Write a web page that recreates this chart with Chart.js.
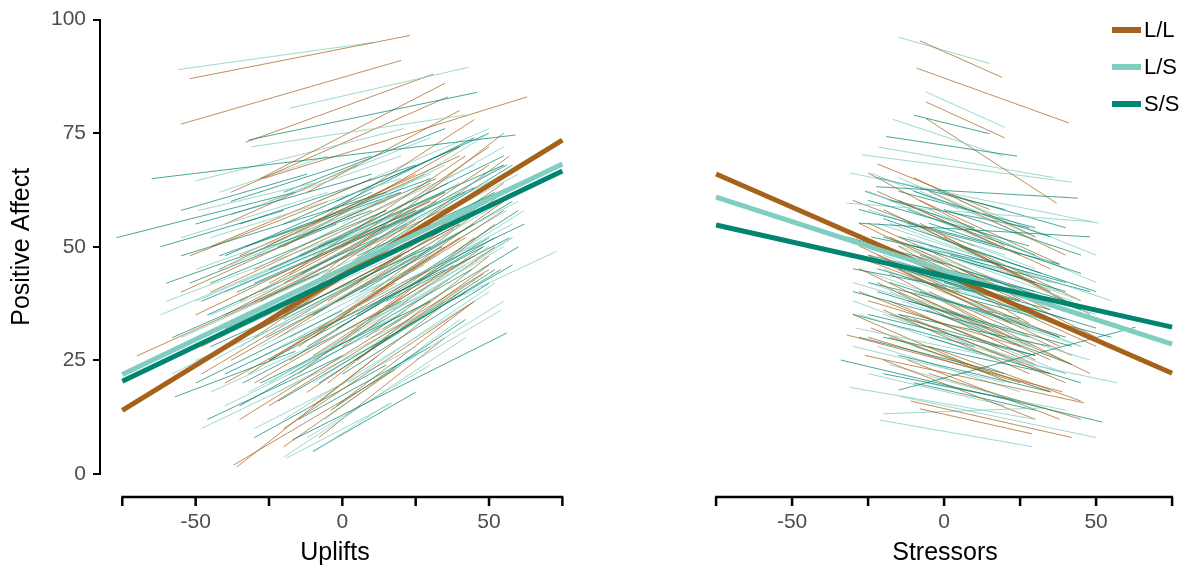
<!DOCTYPE html>
<html>
<head>
<meta charset="utf-8">
<title>Positive Affect by Uplifts and Stressors</title>
<script src="https://cdn.jsdelivr.net/npm/chart.js@4.4.0/dist/chart.umd.min.js"></script>
<style>
  body { margin: 0; background: #fff; }
  #wrap { position: relative; width: 1194px; height: 569px; overflow: hidden; }
  #uplifts-chart { position: absolute; left: 0; top: 0; }
  #stressors-chart { position: absolute; left: 600px; top: 0; }
  #legend { position: absolute; left: 1112px; top: 11px; font-family: "Liberation Sans", Arial, sans-serif; }
  .legend-row { display: flex; align-items: center; height: 37px; font-size: 22px; color: #000; }
  .swatch { width: 29px; height: 6px; margin-right: 3px; }
</style>
</head>
<body>
<div id="wrap">
  <canvas id="uplifts-chart" width="590" height="569"></canvas>
  <canvas id="stressors-chart" width="594" height="569"></canvas>
  <div id="legend"></div>
</div>
<script>
"use-strict";

// Groups and colours

let groups = ["L/L", "L/S", "S/S"];
let groupColors = ["#a6611a", "#80cdc1", "#018571"];
let thinColors = ["rgba(166,97,26,0.9)", "rgba(128,205,193,0.95)", "rgba(1,133,113,0.9)"];

// Axis ticks

let xTicks = [-75, -50, -25, 0, 25, 50, 75];
let xTickLabels = ["", "-50", "", "0", "", "50", ""];
let yTicks = [0, 25, 50, 75, 100];

// Group-level fitted lines (value at x = -75 and x = 75)

let fitRange = [-75, 75];
let upliftFitStart = [14.0, 21.9, 20.4];
let upliftFitEnd = [73.5, 68.2, 66.7];
let stressorFitStart = [65.8, 60.7, 54.6];
let stressorFitEnd = [22.1, 28.5, 32.2];

// Person-level lines, [x1, y1, x2, y2]

let upliftLL = [
  [-52,87,23,96.5], [-55,77,20,91], [-33,73,31,88], [-28,65,35,86], [-27,65,63,83],
  [-38,62,36,83], [-70,26,-8,44], [-37,2,18,23], [-36,1.5,12,26], [-55,40,20,62],
  [-50,35,30,60], [-45,30,35,55], [-40,28,40,55], [-42,45,25,66], [-35,48,40,70],
  [-30,20,45,48], [-25,15,50,45], [-20,10,45,38], [-30,38,50,63], [-10,30,55,60],
  [-15,40,50,68], [-20,50,40,72], [-5,45,55,75], [-40,20,30,45], [-48,22,20,48],
  [-35,12,30,38], [-25,25,40,52], [-15,22,45,52], [-10,15,40,40], [-5,20,50,48],
  [0,35,55,58], [-20,35,30,55], [-30,30,20,52], [-45,50,10,65], [-10,55,45,78],
  [0,50,50,72], [-25,42,35,62], [-15,28,35,50], [-35,38,15,55], [-8,8,35,30],
  [-20,6,20,24], [10,40,55,62], [5,25,50,46], [-18,44,42,70], [-52,48,-5,60],
  [-40,55,5,68], [-12,62,40,80], [-28,33,25,56], [-2,28,52,55], [15,50,57,70],
  [-45,40,15,58], [-38,25,25,48], [-30,45,30,64], [-22,30,38,54], [-12,18,48,44],
  [-5,38,45,58], [5,42,55,64], [-32,22,18,42], [-18,25,30,45], [-26,50,28,66],
  [-8,32,42,52], [-40,35,10,52], [-2,15,45,38], [-14,48,36,64], [8,30,52,50],
  [-35,30,20,48], [-20,42,25,58], [-10,26,38,46], [-48,28,5,46], [0,28,48,50]
];
let upliftLS = [
  [-56,89,11,95], [-18,80.5,43,89.5], [-31,72,42,79], [-50,64.5,21,76], [-49,58,-10,64],
  [-19,3.5,17,15.6], [-10,4.8,16,15.6], [-20,3.7,42,30], [25,25,54,36], [-60,38,10,55],
  [-55,30,20,52], [-50,25,25,45], [-45,18,30,40], [-50,45,15,60], [-45,52,20,65],
  [-40,40,40,62], [-35,33,45,58], [-30,25,50,52], [-25,20,55,50], [-20,12,50,40],
  [-15,30,58,55], [-10,42,60,66], [-5,50,55,72], [0,55,50,75], [-30,48,35,68],
  [-38,57,20,70], [-25,60,30,74], [-45,35,10,50], [-58,22,-10,38], [-40,15,20,34],
  [-30,10,25,28], [-10,20,48,44], [5,30,58,52], [10,20,55,38], [-20,38,40,58],
  [-15,50,45,68], [-35,28,15,46], [-55,52,-5,62], [0,40,60,60], [-8,60,50,76],
  [15,45,60,62], [-28,40,28,58], [-48,10,10,28], [-62,35,-15,48], [-22,18,35,38],
  [20,55,55,68], [-12,8,30,24], [-42,62,-5,70], [30,45,62,58], [10,30,73,49],
  [-42,30,18,48], [-35,42,30,60], [-28,28,32,48], [-20,22,42,46], [-12,35,48,56],
  [-4,28,50,50], [4,38,56,58], [-32,18,22,36], [-16,42,30,58], [-24,52,30,66],
  [-6,12,40,34], [-38,46,12,60], [2,20,52,42], [-18,30,28,46], [8,50,55,66],
  [-44,25,5,42], [-26,35,22,52], [-10,48,40,64], [-50,38,0,52], [12,35,58,52]
];
let upliftSS = [
  [-32,73.5,46,84], [-65,65,59,74.6], [-77,52,-16,62], [-17,7.5,56,31], [-57,17,-16,27],
  [-46,12,0,26], [-60,42,10,58], [-55,48,15,62], [-50,55,10,66], [-48,38,25,58],
  [-45,28,30,50], [-40,22,35,45], [-42,48,30,65], [-35,55,25,68], [-30,42,45,63],
  [-28,32,40,55], [-25,25,48,50], [-22,16,42,40], [-18,38,52,62], [-15,48,55,70],
  [-12,28,50,52], [-8,20,52,45], [-5,58,45,74], [0,45,58,68], [5,35,60,58],
  [-35,15,20,35], [-50,20,0,36], [-58,30,-5,45], [-38,60,10,70], [-20,55,40,72],
  [-25,45,35,62], [-10,35,45,55], [-30,8,15,24], [-15,12,30,28], [0,22,50,42],
  [10,28,58,46], [-45,42,15,58], [-55,58,-12,66], [-20,62,35,76], [-8,50,55,68],
  [5,48,60,64], [-40,32,20,50], [-28,20,30,38], [-62,50,-20,58], [15,38,57,52],
  [-2,60,50,75], [-33,50,20,62], [20,42,62,55], [-10,5,25,18],
  [-46,35,12,52], [-36,40,28,58], [-26,30,34,50], [-18,22,44,45], [-10,40,50,60],
  [-2,32,52,52], [6,40,58,60], [-34,20,20,38], [-14,44,32,60], [-22,50,32,65],
  [-4,14,42,34], [-40,48,10,62], [4,25,54,45], [-20,34,28,50], [10,52,56,68],
  [-42,30,8,46], [-28,38,22,55], [-8,45,42,62], [-52,42,-2,55], [14,32,60,50]
];

let stressorLL = [
  [-8,95,19,87], [-9,89,41,77], [-6,81.6,20,73.7], [-6,78,37,59.4], [-8,14.3,29,8.8],
  [-11,16,42,8], [-32,30.5,39,18], [-26,26,46,15.6], [-25,66,20,50], [-22,62,25,48],
  [-20,58,30,42], [-28,55,18,40], [-18,52,35,36], [-25,48,22,33], [-15,45,38,28],
  [-22,42,30,25], [-12,40,42,24], [-20,36,28,22], [-30,35,15,22], [-10,34,40,20],
  [-18,30,35,18], [-5,28,45,16], [-15,60,35,45], [-10,65,30,52], [-28,45,20,30],
  [-20,25,30,12], [-8,55,40,38], [-25,38,25,28], [-15,50,28,33], [-5,62,40,48],
  [-30,60,10,50], [-12,25,38,12], [-2,45,48,30], [-22,68,15,58], [0,38,48,22],
  [-18,44,22,30], [-24,32,22,20], [5,50,48,35], [-10,48,25,38], [-5,22,45,12],
  [10,40,50,28], [-28,50,5,40],
  [-20,50,30,35], [-15,40,35,25], [-25,55,25,40], [-10,55,35,40], [-28,40,18,28],
  [-5,40,42,26], [-18,38,30,24], [-22,48,28,32], [-12,44,38,30], [0,52,45,38],
  [-25,30,25,20], [-8,60,38,46], [-30,48,10,38], [-15,35,35,22], [5,45,50,30]
];
let stressorLS = [
  [-15,95.8,15,90], [-6,83.8,20,76], [-17,77.8,19.5,69.7], [-21.5,71.7,36,65], [-27,70,42,64],
  [-31,66,51,55], [-21,11.8,29,6], [-20,13.2,33,14.5], [-14.5,17,50,8], [-29,32,57,20],
  [-32,59.4,49,55.3], [-31,19,30,12], [-25,62,25,48], [-22,58,30,45], [-18,55,35,42],
  [-28,52,20,40], [-20,48,32,35], [-15,45,40,32], [-25,42,28,30], [-10,40,45,28],
  [-20,35,30,24], [-30,38,10,28], [-12,32,40,22], [-22,28,25,18], [-8,50,42,38],
  [-5,58,40,45], [-15,65,30,52], [0,45,50,35], [-18,24,30,15], [-28,45,15,35],
  [-10,28,35,18], [5,55,50,42], [-25,22,20,15], [-2,35,48,25], [-20,52,20,42],
  [-30,28,20,20], [-8,62,35,50], [10,48,55,38], [-14,38,28,28], [-24,66,5,58],
  [-6,20,40,14], [-16,56,18,46],
  [-20,45,30,32], [-15,50,35,38], [-25,48,25,36], [-10,45,40,32], [-28,35,18,25],
  [-5,50,45,38], [-18,40,30,28], [-22,55,28,44], [-12,52,38,40], [0,40,45,28],
  [-25,58,20,48], [-8,35,40,22], [-30,42,10,34], [-15,60,30,48], [5,60,50,48]
];
let stressorSS = [
  [-10,78.7,15,74.6], [-19,74,24,69.7], [-34,25,52,11.4], [-15,18.4,63,32.2], [-22.4,63,44,60.5],
  [-28,55,48,52], [-25,60,28,50], [-20,56,32,44], [-15,52,40,42], [-28,48,25,38],
  [-22,45,35,34], [-18,42,38,30], [-12,38,42,28], [-25,35,30,26], [-30,40,15,32],
  [-8,48,45,36], [-20,30,35,22], [-15,26,35,18], [-5,55,45,44], [-10,62,35,52],
  [-22,65,20,58], [0,42,50,32], [-28,30,20,22], [-18,48,30,40], [-5,30,45,20],
  [5,50,50,40], [-12,58,30,48], [-24,52,18,46], [-30,45,10,40], [-15,35,35,28],
  [-8,44,40,34], [10,38,55,30], [-20,22,25,16], [-2,62,40,54], [-26,62,10,54],
  [-10,20,30,14], [-18,60,28,54], [2,48,48,40], [-32,52,0,46], [-6,36,42,24],
  [-20,52,30,42], [-15,45,35,36], [-25,42,25,34], [-10,50,40,40], [-28,58,18,50],
  [-5,45,45,35], [-18,35,30,26], [-22,40,28,30], [-12,55,38,46], [0,58,45,48],
  [-25,48,25,40], [-8,40,40,30], [-30,35,10,28], [-15,62,30,54], [5,45,50,36]
];

let fontFamily = "'Liberation Sans', Arial, sans-serif";

// Build datasets: thick group lines on top, person lines interleaved below

function buildDatasets(thinSets, fitStart, fitEnd) {
  let datasets = [];
  for (let g = 0; g < groups.length; g++) {
    datasets.push({
      label: groups[g],
      data: [{ x: fitRange[0], y: fitStart[g] }, { x: fitRange[1], y: fitEnd[g] }],
      borderColor: groupColors[g],
      borderWidth: 5,
      pointRadius: 0,
      order: -1 - g,
    });
  }
  let longest = Math.max(...thinSets.map((s) => s.length));
  for (let i = 0; i < longest; i++) {
    for (let g = 0; g < thinSets.length; g++) {
      let seg = thinSets[g][i];
      if (!seg) continue;
      datasets.push({
        label: groups[g],
        data: [{ x: seg[0], y: seg[1] }, { x: seg[2], y: seg[3] }],
        borderColor: thinColors[g],
        borderWidth: 0.8,
        pointRadius: 0,
        order: 0,
      });
    }
  }
  return datasets;
}

// Detached x axis (ggplot style): drawn a little below the plot area

let detachedXAxis = {
  id: "detachedXAxis",
  afterDraw(chart, args, opts) {
    let xScale = chart.scales.x;
    let ctx = chart.ctx;
    let y = chart.chartArea.bottom + opts.gap;
    ctx.save();
    ctx.strokeStyle = "#000";
    ctx.lineWidth = 2.5;
    ctx.beginPath();
    ctx.moveTo(xScale.getPixelForValue(xTicks[0]) - 1, y);
    ctx.lineTo(xScale.getPixelForValue(xTicks[xTicks.length - 1]) + 1, y);
    for (let i = 0; i < xTicks.length; i++) {
      let px = xScale.getPixelForValue(xTicks[i]);
      ctx.moveTo(px, y);
      ctx.lineTo(px, y + 9);
    }
    ctx.stroke();
    ctx.restore();
  },
};

function makeChart(canvasId, datasets, xMin, xMax, xTitle, showY, padding) {
  let ctx = document.getElementById(canvasId).getContext("2d");
  return new Chart(ctx, {
    type: "line",
    data: { datasets: datasets },
    plugins: [detachedXAxis],
    options: {
      responsive: false,
      animation: false,
      events: [],
      layout: { padding: padding },
      plugins: {
        legend: { display: false },
        tooltip: { enabled: false },
        detachedXAxis: { gap: 23 },
      },
      scales: {
        x: {
          type: "linear",
          min: xMin,
          max: xMax,
          afterBuildTicks: (s) => { s.ticks = xTicks.map((v) => ({ value: v })); },
          ticks: {
            autoSkip: false,
            maxRotation: 0,
            padding: 0,
            color: "#4d4d4d",
            font: { size: 21, family: fontFamily },
            callback: (value, index) => xTickLabels[index],
          },
          grid: { display: false, drawTicks: true, tickLength: 36 },
          border: { display: false },
          title: {
            display: true,
            text: xTitle,
            color: "#000",
            font: { size: 25, family: fontFamily },
            padding: { top: 0, bottom: 1 },
          },
          afterFit: (s) => { s.height = 95; },
        },
        y: {
          type: "linear",
          display: showY,
          min: 0,
          max: 100,
          afterBuildTicks: (s) => { s.ticks = yTicks.map((v) => ({ value: v })); },
          ticks: {
            padding: 7,
            color: "#4d4d4d",
            font: { size: 21, family: fontFamily },
          },
          grid: { drawOnChartArea: false, drawTicks: true, tickLength: 7, color: "#000", lineWidth: 2 },
          border: { display: true, color: "#000", width: 2 },
          title: {
            display: true,
            text: "Positive Affect",
            color: "#000",
            font: { size: 25, family: fontFamily },
            padding: { top: 7, bottom: 0 },
          },
          afterFit: (s) => { s.width = showY ? 100 : 0; },
        },
      },
    },
  });
}

makeChart(
  "uplifts-chart",
  buildDatasets([upliftLL, upliftLS, upliftSS], upliftFitStart, upliftFitEnd),
  -82.6, 77.6, "Uplifts", true,
  { top: 18, right: 20, bottom: 0, left: 0 }
);

makeChart(
  "stressors-chart",
  buildDatasets([stressorLL, stressorLS, stressorSS], stressorFitStart, stressorFitEnd),
  -77.0, 77.6, "Stressors", false,
  { top: 18, right: 14, bottom: 0, left: 110 }
);

// Legend

let legend = document.getElementById("legend");
for (let g = 0; g < groups.length; g++) {
  let row = document.createElement("div");
  row.className = "legend-row";
  let swatch = document.createElement("span");
  swatch.className = "swatch";
  swatch.style.background = groupColors[g];
  let label = document.createElement("span");
  label.textContent = groups[g];
  row.appendChild(swatch);
  row.appendChild(label);
  legend.appendChild(row);
}
</script>
</body>
</html>
